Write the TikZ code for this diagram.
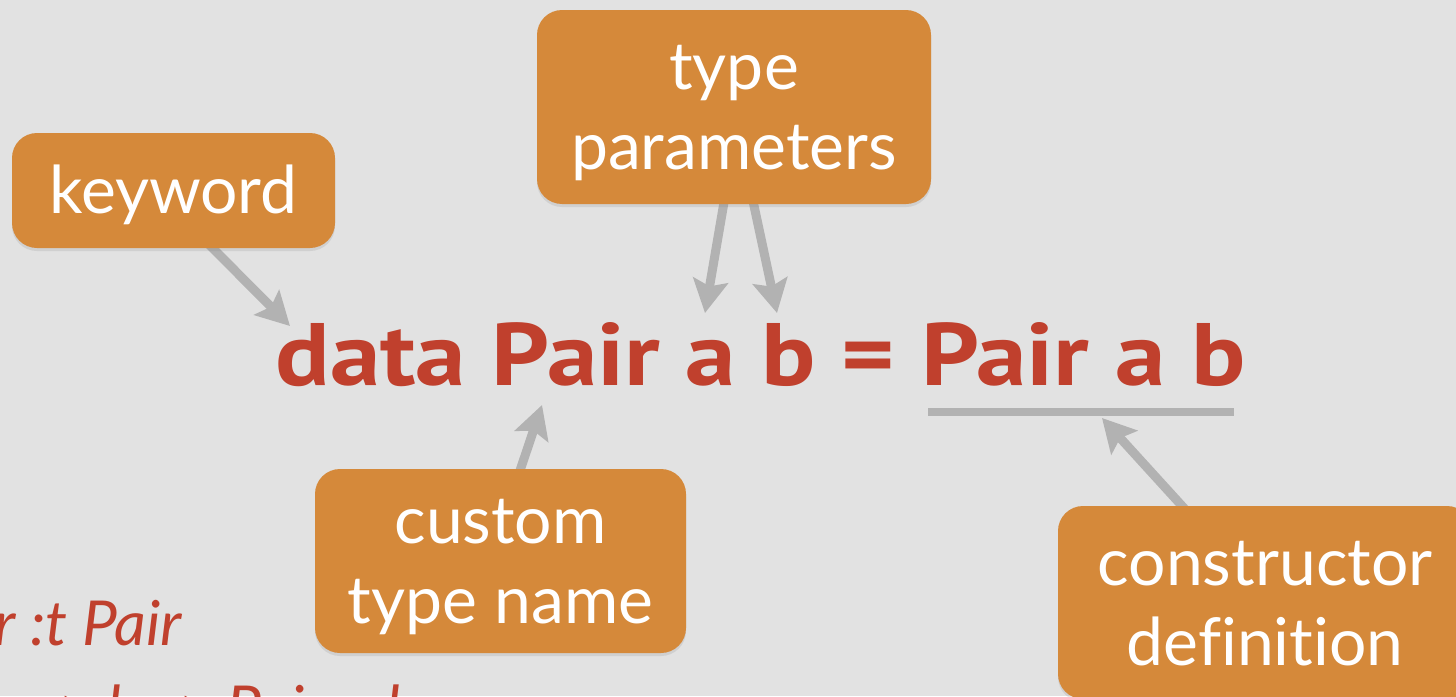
\documentclass[tikz,border=0pt]{standalone}
\usepackage{fontspec}
\setmainfont{Lato}[Ligatures={NoCommon}]
\newfontfamily\codefont{PT Sans}
\usetikzlibrary{arrows.meta,shadows}
\pgfdeclarelayer{bg}
\pgfsetlayers{bg,main}
\definecolor{bgc}{RGB}{226,226,226}
\definecolor{boxc}{RGB}{213,137,58}
\definecolor{codered}{RGB}{192,64,45}
\definecolor{arrgray}{RGB}{178,178,178}
\newcommand{\tstrut}{\rule{0pt}{30pt}}
\newcommand{\bstrut}{\rule[-7.5pt]{0pt}{7.5pt}}
\tikzset{
  lbl/.style={fill=boxc, rounded corners=12.5pt, text=white, align=center,
    font=\fontsize{33pt}{40pt}\selectfont, inner sep=0pt,
    drop shadow={opacity=0.18, shadow xshift=0pt, shadow yshift=-1.5pt}},
  arr/.style={draw=arrgray, line width=4.5pt,
    -{Stealth[length=16.5pt,width=17.5pt,inset=3pt]}},
  uline/.style={draw=arrgray, line width=4pt},
  codetxt/.style={anchor=base west, inner sep=0pt, text=codered},
  ghcitxt/.style={anchor=base east, inner sep=0pt, text=codered,
    font=\itshape\fontsize{31pt}{40pt}\selectfont},
}
\begin{document}
\begin{tikzpicture}[x=0.5pt,y=-0.5pt]
\useasboundingbox (0,0) rectangle (1456,696);
\begin{pgfonlayer}{bg}
\fill[bgc] (0,0) rectangle (1456,696);
\end{pgfonlayer}
\clip (0,0) rectangle (1456,696);

% main code line
\node[codetxt] (code) at (275,385)
  {\resizebox{485pt}{31.5pt}{\codefont\bfseries data Pair a b = Pair a b}};

% labels
\node[lbl, minimum width=161.5pt, minimum height=57.5pt] (kw) at (173.5,190.5)
  {\tstrut\bstrut keyword};
\node[lbl, minimum width=197pt, minimum height=97pt] (tp) at (734,107)
  {\tstrut type\\parameters\bstrut};
\node[lbl, minimum width=185.5pt, minimum height=92pt] (ct) at (500.5,561)
  {\tstrut custom\\type name\bstrut};
\node[lbl, minimum width=207pt, minimum height=96.5pt] (cd) at (1265,602.5)
  {\tstrut constructor\\defini\kern0pt tion\bstrut};

% targets
\coordinate (kwtip) at (290,326);
\coordinate (tatip) at (705,313);
\coordinate (tbtip) at (777,313);
\coordinate (cttip) at (542,405);
\coordinate (cdtip) at (1102,418);
\coordinate (ul1) at (928,412);
\coordinate (ul2) at (1234,412);

\begin{pgfonlayer}{bg}
\draw[arr] ([xshift=15.75pt,yshift=4pt]kw.south) -- (kwtip);
\draw[arr] ([xshift=-4.5pt,yshift=4pt]tp.south) -- (tatip);
\draw[arr] ([xshift=9pt,yshift=4pt]tp.south) -- (tbtip);
\draw[arr] ([xshift=8.75pt,yshift=-4pt]ct.north) -- (cttip);
\draw[arr] ([xshift=-38pt,yshift=-4pt]cd.north) -- (cdtip);
\end{pgfonlayer}
\draw[uline] (ul1) -- (ul2);

% ghci output, cut by the frame
\node[ghcitxt] (g1) at (182,645) {r :t Pair};
\node[ghcitxt] (g2) at (420,730) {a -> b -> Pair a b};
\end{tikzpicture}
\end{document}
